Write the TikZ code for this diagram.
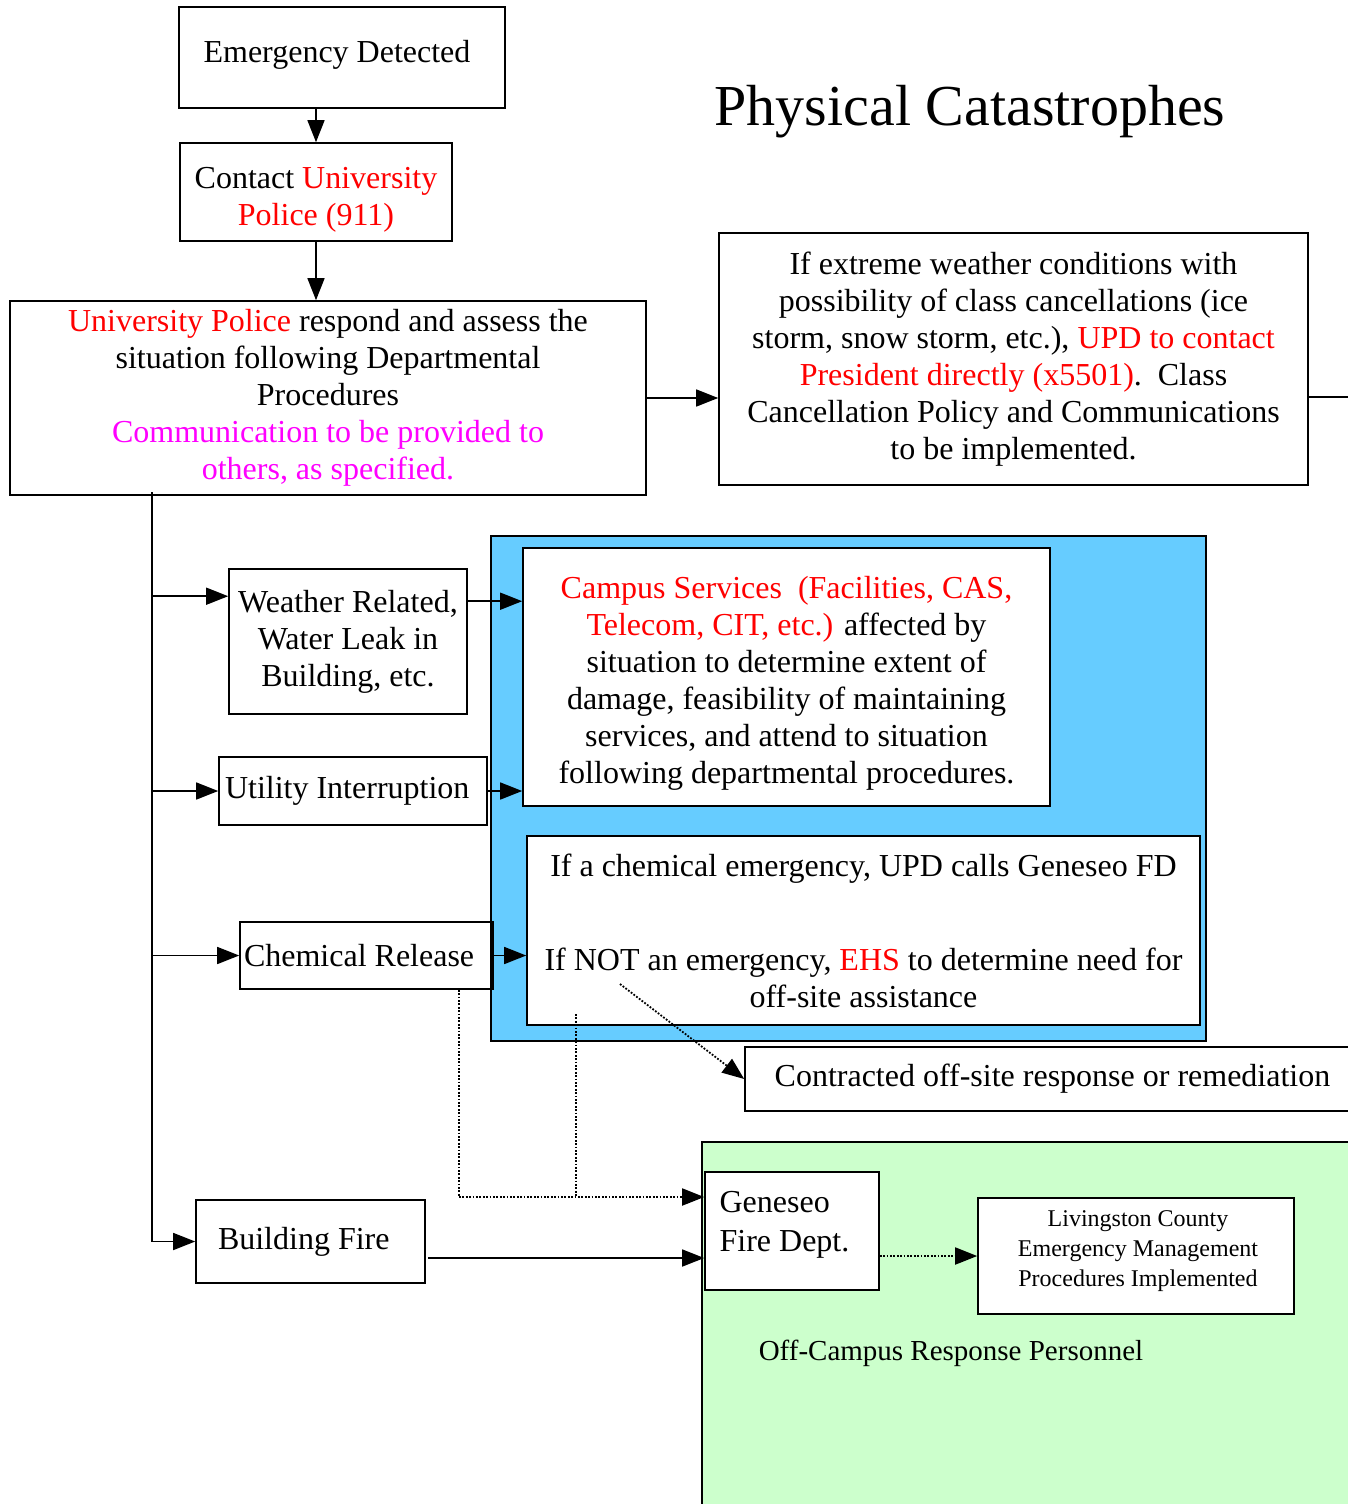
\documentclass[tikz,border=0pt]{standalone}
\usepackage{fontspec}
\setmainfont{Liberation Serif}
\usetikzlibrary{arrows.meta,calc}
\definecolor{bluefill}{HTML}{66CCFF}
\definecolor{greenfill}{HTML}{CCFFCC}
\definecolor{pinktext}{RGB}{255,0,255}
\definecolor{redtext}{RGB}{255,0,0}
\begin{document}
\begin{tikzpicture}[x=1pt,y=-1pt,
  box/.style={draw, line width=1.6pt, inner sep=0pt, align=center, font=\fontsize{32}{37}\selectfont},
  txt/.style={inner sep=0pt, align=center, font=\fontsize{32}{37}\selectfont},
  bg/.style={draw, line width=1.6pt, inner sep=0pt, anchor=north west},
  arr/.style={line width=1.5pt, -{Triangle[length=22pt,width=17pt]}},
  dotarr/.style={line width=1.8pt, dash pattern=on 1.8pt off 1.6pt, -{Triangle[length=22pt,width=17pt]}},
  dotline/.style={line width=1.8pt, dash pattern=on 1.8pt off 1.6pt}]
\useasboundingbox (0,0) rectangle (1347,1504);

% title
\node[font=\fontsize{58}{66}\selectfont] (title) at (970,112) {Physical Catastrophes};

% top chain
\node[box, minimum width=326, minimum height=101] (ed) at (342,57.5) {};
\node[txt] (edtext) at (337,54.5) {Emergency Detected};
\node[box, minimum width=272, minimum height=98] (cp) at (316,192) {};
\node[txt] (cptext) at (316,199.5) {Contact \textcolor{redtext}{University}\\\textcolor{redtext}{Police (911)}};
\node[box, minimum width=636, minimum height=194] (up) at (328,398) {\textcolor{redtext}{University Police} respond and assess the\\situation following Departmental\\Procedures\\\textcolor{pinktext}{Communication to be provided to}\\\textcolor{pinktext}{others, as specified.}};
\node[box, minimum width=589, minimum height=252] (ext) at (1013.5,359) {If extreme weather conditions with\\possibility of class cancellations (ice\\storm, snow storm, etc.), \textcolor{redtext}{UPD to contact}\\\textcolor{redtext}{President directly (x5501)}.\ \ Class\\Cancellation Policy and Communications\\to be implemented.};

% blue region
\node[bg, fill=bluefill, minimum width=715, minimum height=505] (bluebg) at (490,535) {};
\node[box, fill=white, minimum width=527, minimum height=258] (cs) at (786.5,677) {};
\node[txt] (cstext) at (786.5,683) {\textcolor{redtext}{Campus Services\ \ (Facilities, CAS,}\\\textcolor{redtext}{Telecom, CIT, etc.)} affected by\\situation to determine extent of\\damage, feasibility of maintaining\\services, and attend to situation\\following departmental procedures.};
\node[box, fill=white, minimum width=673, minimum height=189] (chem) at (863.5,930.5) {If a chemical emergency, UPD calls Geneseo FD\\[57pt]If NOT an emergency, \textcolor{redtext}{EHS} to determine need for\\off-site assistance};

% left boxes
\node[box, minimum width=238, minimum height=145] (wr) at (348,641.5) {Weather Related,\\Water Leak in\\Building, etc.};
\node[box, align=flush left, text width=256, minimum width=268, minimum height=68] (ui) at (353,791) {Utility Interruption};
\node[box, align=flush left, text width=245, minimum width=253, minimum height=67] (cr) at (366.5,955.5) {Chemical Release};
\node[box, align=flush left, text width=185, minimum width=229, minimum height=83] (bf) at (310.5,1241.5) {Building Fire};

% contracted
\node[box, minimum width=615, minimum height=64] (cor) at (1052.5,1079) {Contracted off-site response or remediation};

% green region
\node[bg, fill=greenfill, minimum width=670, minimum height=390] (greenbg) at (701,1141) {};
\node[box, fill=white, minimum width=174, minimum height=118] (gfd) at (792,1231) {};
\node[align=left, inner sep=0pt, font=\fontsize{32}{39}\selectfont] (gfdtext) at (784.5,1225) {Geneseo\\Fire Dept.};
\node[box, fill=white, minimum width=316, minimum height=116] (lc) at (1136,1256) {};
\node[txt, font=\fontsize{24}{30}\selectfont] (lctext) at (1138,1251) {Livingston County\\Emergency Management\\Procedures Implemented};
\node[font=\fontsize{29}{34}\selectfont] (ocrp) at (951,1353) {Off-Campus Response Personnel};

% connectors
\draw[arr] (cp.north |- ed.south) -- (cp.north);
\draw[arr] (cp.south) -- (cp.south |- up.north);
\draw[arr] (up.east) -- (up.east -| ext.west);
\coordinate (offR) at (1360,397);
\draw[line width=1.5pt] (ext.east |- offR) -- (offR);

\coordinate (ttop) at (152,492);
\coordinate (tbot) at (ttop |- bf.west);
\draw[line width=1.5pt] (ttop) -- (tbot);
\coordinate (wrin) at ($(wr.north west)+(0,28)$);
\draw[arr] (ttop |- wrin) -- (wrin);
\draw[arr] (ttop |- ui.west) -- (ui.west);
\draw[arr] (ttop |- cr.west) -- (cr.west);
\draw[arr] (tbot) -- (bf.west);

\coordinate (wrout) at ($(wr.north east)+(0,33)$);
\draw[arr] (wrout) -- (wrout -| cs.west);
\draw[arr] (ui.east) -- (ui.east -| cs.west);
\draw[arr] (cr.east) -- (cr.east -| chem.west);

\coordinate (d1) at (459,1197);
\draw[dotline] (cr.south -| d1) -- (d1);
\draw[dotarr] (d1) -- (d1 -| gfd.west);
\coordinate (d2top) at (576,1014);
\draw[dotline] (d2top) -- (d2top |- d1);
\coordinate (diagstart) at (620,984);
\draw[dotarr] (diagstart) -- (cor.west);

\coordinate (bfout) at ($(bf.east)+(2,16.5)$);
\draw[arr] (bfout) -- (bfout -| gfd.west);
\draw[dotarr] (gfd.east |- lc.west) -- (lc.west);
\end{tikzpicture}
\end{document}
